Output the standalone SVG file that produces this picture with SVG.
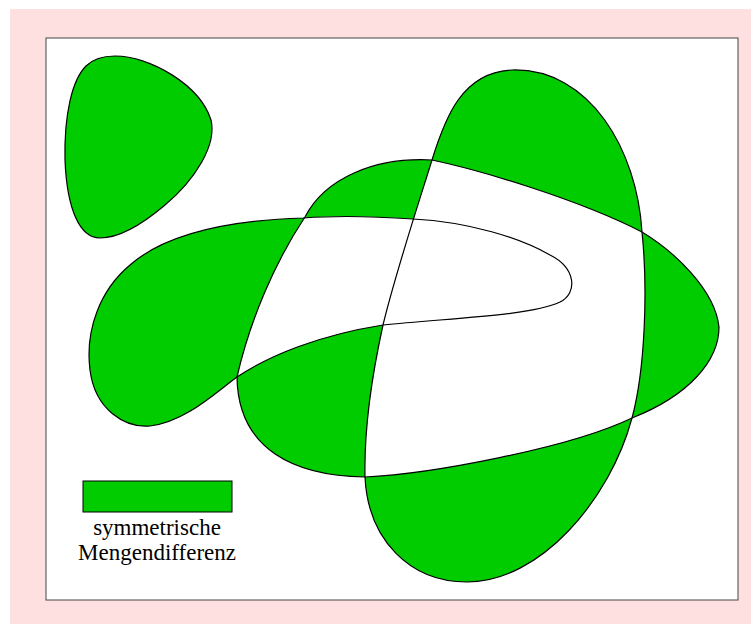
<svg xmlns="http://www.w3.org/2000/svg" width="751" height="624" viewBox="0 0 751 624">
<style>
.out{fill:none;stroke:#000;stroke-width:1.2;stroke-linejoin:round}
.green{fill:#00cc00}
.lbl{font-family:"Liberation Serif","Times New Roman",serif;font-size:23px;fill:#000;text-anchor:middle}
</style>
<defs>
<path id="P" d="M432,160 C445,118 462,72 512,70 C590,68 637,150 642,232 C648,290 645,370 632,418 C610,500 540,582 467,582 C410,582 368,540 365,477 C364,430 372,375 383,325 C395,275 418,205 432,160 Z"/>
<path id="Q" d="M305,217 C325,178 375,157 432,160 C480,170 580,200 642,232 C675,252 715,290 719,327 C719,360 690,395 632,418 C570,448 430,474 365,477 C295,476 238,450 237,377 C250,320 275,262 305,217 Z"/>
<path id="R" d="M237,377 C270,355 320,335 383,325 C450,318 530,316 560,302 C578,293 576,268 550,255 C520,238 470,222 413,219 C370,216 330,216 303,218 C240,220 170,230 130,265 C100,290 85,330 90,370 C95,410 125,428 150,426 C185,422 215,393 237,377 Z"/>
<clipPath id="clipP"><use href="#P"/></clipPath>
</defs>
<rect x="10" y="9" width="741" height="615" fill="#ffe0e0"/>
<rect x="46" y="38" width="692" height="562" fill="#fff" stroke="#444" stroke-width="1"/>
<g id="blob-small">
<path class="green" d="M115,56 C150,56 200,85 211,120 C217,145 195,180 165,205 C145,222 120,238 100,238 C80,238 67,210 65,160 C64,115 72,80 86,66 C93,59 103,56 115,56 Z" stroke="#000" stroke-width="1.2"/>
</g>
<g id="symdiff">
<path class="green" fill-rule="evenodd" d="M432,160 C445,118 462,72 512,70 C590,68 637,150 642,232 C648,290 645,370 632,418 C610,500 540,582 467,582 C410,582 368,540 365,477 C364,430 372,375 383,325 C395,275 418,205 432,160 Z M305,217 C325,178 375,157 432,160 C480,170 580,200 642,232 C675,252 715,290 719,327 C719,360 690,395 632,418 C570,448 430,474 365,477 C295,476 238,450 237,377 C250,320 275,262 305,217 Z M237,377 C270,355 320,335 383,325 C450,318 530,316 560,302 C578,293 576,268 550,255 C520,238 470,222 413,219 C370,216 330,216 303,218 C240,220 170,230 130,265 C100,290 85,330 90,370 C95,410 125,428 150,426 C185,422 215,393 237,377 Z"/>
<use href="#R" fill="#fff" clip-path="url(#clipP)"/>
</g>
<g id="outlines">
<use href="#P" class="out"/>
<use href="#Q" class="out"/>
<use href="#R" class="out"/>
</g>
<g id="legend">
<rect x="83" y="481" width="149" height="31" class="green" stroke="#000" stroke-width="1"/>
<text class="lbl" x="157" y="534.5">symmetrische</text>
<text class="lbl" x="157" y="560">Mengendifferenz</text>
</g>
</svg>
